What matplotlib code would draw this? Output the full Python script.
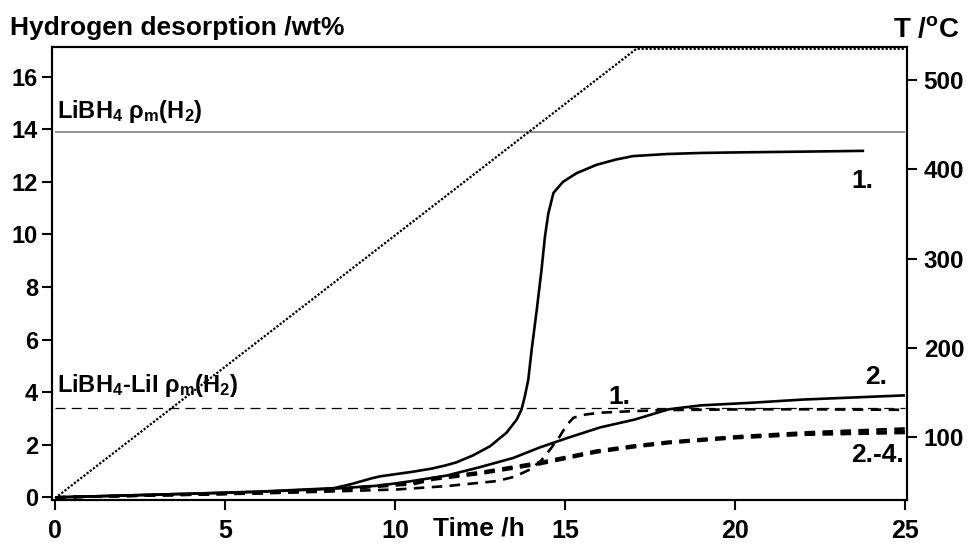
import numpy as np
import matplotlib
matplotlib.use("Agg")
import matplotlib.pyplot as plt

plt.rcParams['font.family'] = ['Liberation Sans', 'DejaVu Sans']
plt.rcParams['font.weight'] = 'bold'
plt.rcParams['mathtext.fontset'] = 'custom'
plt.rcParams['mathtext.rm'] = 'Liberation Sans:bold'
plt.rcParams['mathtext.bf'] = 'Liberation Sans:bold'
plt.rcParams['mathtext.it'] = 'Liberation Sans:bold'
plt.rcParams['mathtext.sf'] = 'Liberation Sans:bold'
plt.rcParams['mathtext.default'] = 'regular'

# ---------------- data ----------------
# LiBH4, curve "1." (solid)
t_libh4 = [0, 2, 4, 6, 8.2, 8.7, 9.3, 9.56, 10.0, 10.5, 11.1, 11.5, 11.8, 12.3, 12.8,
           13.28, 13.58, 13.72, 13.82, 13.92, 14.02, 14.17, 14.31, 14.41, 14.51, 14.66,
           14.94, 15.34, 15.93, 16.5, 17, 18, 19, 20, 22, 23.8]
v_libh4 = [0, 0.07, 0.14, 0.22, 0.35, 0.5, 0.72, 0.8, 0.88, 0.97, 1.1, 1.22, 1.33, 1.6,
           1.95, 2.46, 2.96, 3.34, 3.85, 4.48, 5.62, 7.14, 8.66, 9.92, 10.8, 11.58,
           12.0, 12.33, 12.65, 12.85, 12.98, 13.06, 13.1, 13.12, 13.15, 13.18]

# LiBH4-LiI, curve "2." (solid)
t_mix2 = [0, 2, 4, 6, 8.2, 9.56, 10.5, 11.52, 12.5, 13.48, 14.26, 15.05, 16.03, 17.05,
          18.05, 19, 20.5, 22, 23.5, 25]
v_mix2 = [0, 0.07, 0.14, 0.21, 0.33, 0.45, 0.62, 0.83, 1.15, 1.5, 1.9, 2.25, 2.66, 2.96,
          3.35, 3.5, 3.6, 3.72, 3.8, 3.88]

# LiBH4-LiI, cycle 1 (dashed)
t_cyc1 = [0, 2, 4, 6, 8, 10.05, 11.52, 13, 13.5, 13.97, 14.3, 14.56, 14.85, 15.05,
          15.25, 15.6, 16.03, 17, 18, 20.4, 22, 25]
v_cyc1 = [0, 0.05, 0.1, 0.15, 0.22, 0.3, 0.43, 0.62, 0.78, 1.06, 1.4, 1.82, 2.33, 2.75,
          3.03, 3.15, 3.22, 3.28, 3.32, 3.35, 3.35, 3.33]

# LiBH4-LiI, cycles 2-4 (dashed)
t_cyc = [0, 2, 4, 6, 8, 9.2, 10.54, 11.15, 12.5, 14.26, 15.93, 17, 18.05, 20, 22, 25]
v_cyc2 = [0, 0.06, 0.12, 0.18, 0.27, 0.42, 0.58, 0.75, 0.96, 1.34, 1.78, 1.97, 2.12,
          2.32, 2.47, 2.62]
v_cyc3 = [0, 0.05, 0.11, 0.17, 0.25, 0.4, 0.54, 0.7, 0.92, 1.3, 1.74, 1.93, 2.09,
          2.28, 2.42, 2.52]
v_cyc4 = [0, 0.05, 0.1, 0.16, 0.24, 0.38, 0.5, 0.68, 0.89, 1.26, 1.71, 1.9, 2.06,
          2.25, 2.38, 2.45]

# temperature programme
t_temp = [0, 17.1, 25]
temp = [32, 535, 535]

# theoretical capacities
cap_values = [13.9, 3.4]
cap_labels = [r'LiBH$_4$ ρ$_m$(H$_2$)', r'LiBH$_4$-LiI ρ$_m$(H$_2$)']

x_ticks = [0, 5, 10, 15, 20, 25]
y_ticks = [0, 2, 4, 6, 8, 10, 12, 14, 16]
t_ticks = [100, 200, 300, 400, 500]

# ---------------- figure ----------------
W, H = 971, 546
fig = plt.figure(figsize=(9.71, 5.46), dpi=100)
ax = fig.add_axes([52 / W, 46 / H, (907 - 52) / W, (500 - 47) / H])
ax2 = ax.twinx()

FS_TICK = 17
solid_kw = dict(color='black', lw=1.9, solid_capstyle='butt')
dash_kw = dict(color='black', lw=1.9, linestyle=(0, (4, 2.8)))

ax.hlines(cap_values[0], 0, 25, color='#808080', lw=1.2)
ax.hlines(cap_values[1], 0, 25, color='black', lw=0.9, linestyle=(0, (8, 5)))

ax.plot(t_libh4, v_libh4, **solid_kw)
ax.plot(t_mix2, v_mix2, **solid_kw)
ax.plot(t_cyc1, v_cyc1, **dash_kw)
ax.plot(t_cyc, v_cyc2, **dash_kw)
ax.plot(t_cyc, v_cyc3, **dash_kw)
ax.plot(t_cyc, v_cyc4, **dash_kw)

ax2.plot(t_temp, temp, color='black', lw=1.6, linestyle=(0, (1, 0.8)))

ax.set_xlim(-0.09, 25.06)
ax.set_ylim(-0.1, 17.13)
ax2.set_ylim(30, 537)

ax.set_xticks(x_ticks)
ax.set_yticks(y_ticks)
ax2.set_yticks(t_ticks)
ax.set_xticklabels([str(v) for v in x_ticks], fontsize=FS_TICK + 1, fontweight='bold')
ax.set_yticklabels([str(v) for v in y_ticks], fontsize=FS_TICK, fontweight='bold')
ax2.set_yticklabels([str(v) for v in t_ticks], fontsize=FS_TICK + 0.5, fontweight='bold')

for a in (ax, ax2):
    for s in a.spines.values():
        s.set_linewidth(1.5)
ax.tick_params(axis='x', direction='out', length=7, width=1.5, pad=7)
ax.tick_params(axis='y', direction='out', length=7, width=1.5, pad=3)
ax2.tick_params(axis='y', direction='out', length=7, width=1.5, pad=5)

# annotations
ax.text(0.05, 14.43, cap_labels[0], fontsize=17, fontweight='bold', va='baseline')
ax.text(0.06, 3.99, cap_labels[1], fontsize=17, fontweight='bold', va='baseline')
ax.text(23.74, 12.04, '1.', fontsize=19, fontweight='bold', ha='center', va='center')
ax.text(24.15, 4.56, '2.', fontsize=19, fontweight='bold', ha='center', va='center')
ax.text(16.6, 3.8, '1.', fontsize=19, fontweight='bold', ha='center', va='center')
ax.text(24.2, 1.63, '2.-4.', fontsize=19, fontweight='bold', ha='center', va='center')

fig.text(10 / W, 1 - 35 / H, 'Hydrogen desorption /wt%', fontsize=19,
         fontweight='bold', ha='left', va='baseline')
fig.text(959 / W, 1 - 37 / H, r'T /$^{o}$C', fontsize=20, fontweight='bold',
         ha='right', va='baseline')
fig.text(478.5 / W, 1 - 535 / H, 'Time /h', fontsize=19, fontweight='bold',
         ha='center', va='baseline')

fig.savefig('out.png', dpi=100)
